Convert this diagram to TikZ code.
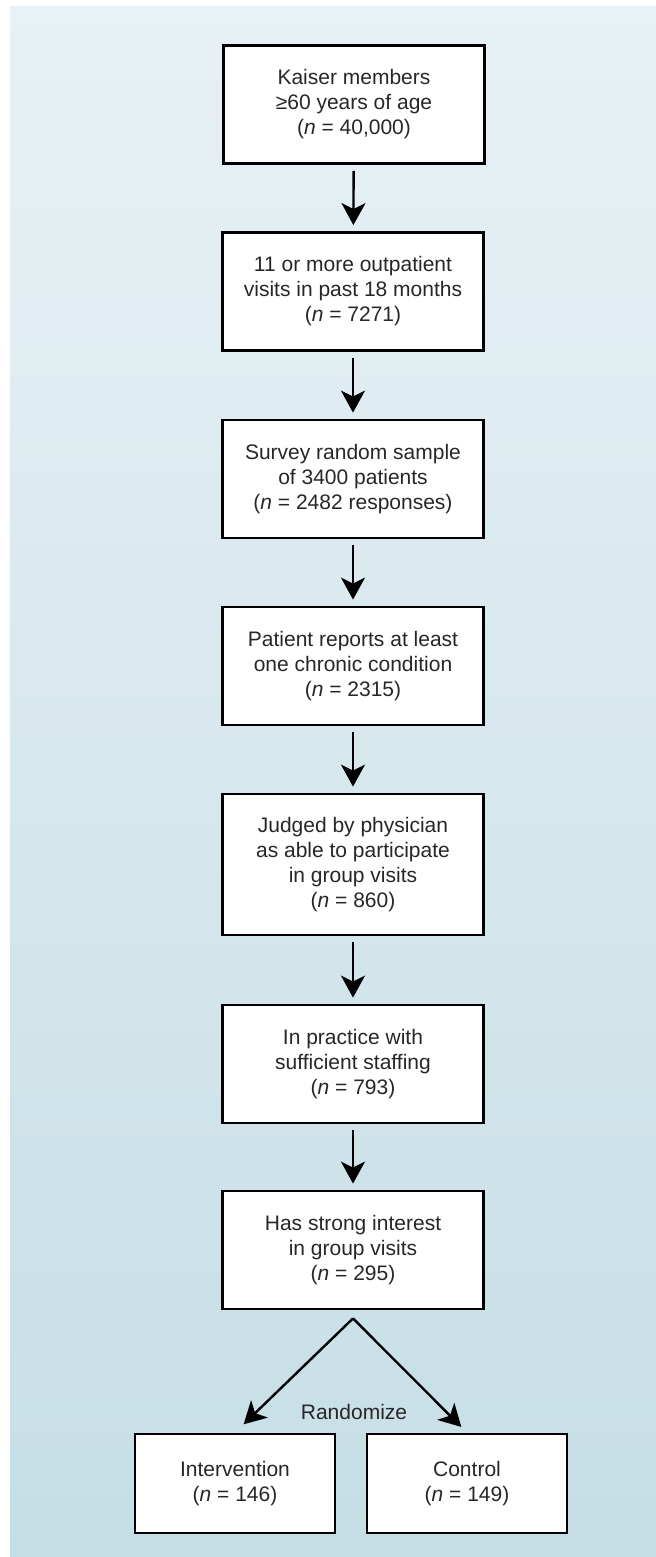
\documentclass[tikz,border=0pt]{standalone}
\usepackage{fontspec}
\setmainfont{Liberation Sans}
\usetikzlibrary{arrows.meta,calc}
\definecolor{bgtop}{HTML}{E8F1F5}
\definecolor{bgbottom}{HTML}{C5DEE5}
\definecolor{inkgray}{HTML}{2A2627}

\begin{document}
\begin{tikzpicture}
% one unit is one pixel of the sheet, y runs downwards
[x=0.5pt,y=-0.5pt,
 flowbox/.style={draw=black,fill=white,line width=1.4pt,minimum width=130.5pt,
   minimum height=59pt,inner sep=0pt,align=center,
   font=\fontsize{10.5}{12.5}\selectfont,text=inkgray},
 tallbox/.style={flowbox,minimum height=70.5pt},
 armbox/.style={flowbox,minimum width=100pt,minimum height=49.5pt},
 downarrow/.style={-{Stealth[length=11pt,width=12pt,inset=3pt]},
   line width=1.2pt,shorten <=3pt,shorten >=3pt}]
\useasboundingbox (0,0) rectangle (656,1557);
\fill[white] (0,0) rectangle (656,1557);
\shade[top color=bgtop,bottom color=bgbottom] (10,7) rectangle (656,1557);

%The chain of selection steps:
\node[flowbox] (members) at (354,104.5) {Kaiser members\\≥60 years of age\\(\textit{n} = 40,000)};
\node[flowbox] (visits) at (353,291.5) {11 or more outpatient\\visits in past 18 months\\(\textit{n} = 7271)};
\node[flowbox] (survey) at (353,479) {Survey random sample\\of 3400 patients\\(\textit{n} = 2482 responses)};
\node[flowbox] (chronic) at (353,666) {Patient reports at least\\one chronic condition\\(\textit{n} = 2315)};
\node[tallbox] (judged) at (353,864.5) {Judged by physician\\as able to participate\\in group visits\\(\textit{n} = 860)};
\node[flowbox] (staffing) at (353,1064) {In practice with\\sufficient staffing\\(\textit{n} = 793)};
\node[flowbox] (interest) at (353,1250) {Has strong interest\\in group visits\\(\textit{n} = 295)};

\draw[downarrow] (members) -- (visits);
\draw[downarrow] (visits) -- (survey);
\draw[downarrow] (survey) -- (chronic);
\draw[downarrow] (chronic) -- (judged);
\draw[downarrow] (judged) -- (staffing);
\draw[downarrow] (staffing) -- (interest);

%Randomization into two arms:
\node[armbox] (intervention) at (235,1483.5) {Intervention\\(\textit{n} = 146)};
\node[armbox] (control) at (467,1483.5) {Control\\(\textit{n} = 149)};
\node[font=\fontsize{10.5}{12.5}\selectfont,text=inkgray] (randomize) at (354,1412) {Randomize};
\coordinate (split) at ($(interest.south)+(0,8)$);
\draw[downarrow,shorten <=0pt,shorten >=6pt] (split) -- (intervention.north);
\draw[downarrow,shorten <=0pt,shorten >=4pt] (split) -- (control.north);
\end{tikzpicture}
\end{document}
